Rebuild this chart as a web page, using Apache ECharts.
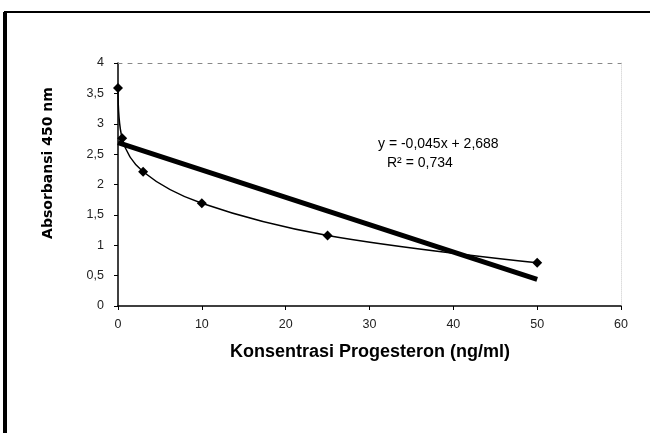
<!DOCTYPE html>
<html>
<head>
<meta charset="utf-8">
<script src="https://cdn.jsdelivr.net/npm/echarts@6/dist/echarts.min.js"></script>
<style>
  html, body { margin: 0; padding: 0; background: #fff; }
  #chart { width: 650px; height: 433px; }
</style>
</head>
<body>
<div id="chart"></div>
<script>
// concentration (ng/ml) and absorbance
var konsentrasi = [0, 0.5, 3, 10, 25, 50];
var absorbansi = [3.59, 2.76, 2.21, 1.69, 1.16, 0.71];
// linear trendline end points (y = -0,045x + 2,688)
var trendX = [0, 50];
var trendY = [2.688, 0.438];
var xTickLabels = ["0", "10", "20", "30", "40", "50", "60"];
var yTickLabels = ["0", "0,5", "1", "1,5", "2", "2,5", "3", "3,5", "4"];

var chart = echarts.init(document.getElementById("chart"));

function pairs(xs, ys) {
  return xs.map(function(x, i) {
    return [x, ys[i]];
  });
}

chart.setOption({
  backgroundColor: "#fff",
  animation: false,
  grid: { left: 118, right: 29, top: 63, bottom: 127 },
  xAxis: [
    {
      type: "value",
      min: 0,
      max: 60,
      interval: 10,
      axisLine: { lineStyle: { color: "#000", width: 1.5 } },
      axisTick: { show: true, length: 4, inside: false, lineStyle: { color: "#000" } },
      splitLine: { show: false },
      axisLabel: {
        color: "#222",
        fontFamily: "Liberation Sans",
        fontSize: 12.5,
        margin: 12,
        formatter: function(v, i) {
          return xTickLabels[i];
        }
      }
    },
    {
      type: "value",
      position: "top",
      min: 0,
      max: 60,
      axisLine: { show: true, onZero: false, lineStyle: { color: "#888", type: [4, 6], width: 1 } },
      axisTick: { show: false },
      axisLabel: { show: false },
      splitLine: { show: false }
    }
  ],
  yAxis: [
    {
      type: "value",
      min: 0,
      max: 4,
      interval: 0.5,
      axisLine: { show: true, lineStyle: { color: "#000", width: 1.5 } },
      axisTick: { show: true, length: 4, lineStyle: { color: "#000" } },
      splitLine: { show: false },
      axisLabel: {
        color: "#222",
        fontFamily: "Liberation Sans",
        fontSize: 12.5,
        margin: 14,
        formatter: function(v, i) {
          return yTickLabels[i];
        }
      }
    },
    {
      type: "value",
      position: "right",
      min: 0,
      max: 4,
      axisLine: { show: true, onZero: false, lineStyle: { color: "#ddd", type: "dotted", width: 1 } },
      axisTick: { show: false },
      axisLabel: { show: false },
      splitLine: { show: false }
    }
  ],
  series: [
    {
      name: "Absorbansi",
      type: "line",
      data: pairs(konsentrasi, absorbansi),
      smooth: 0.35,
      symbol: "diamond",
      symbolSize: 10,
      showSymbol: true,
      lineStyle: { color: "#000", width: 1.5 },
      itemStyle: { color: "#000" },
      z: 3
    },
    {
      name: "Linear",
      type: "line",
      data: pairs(trendX, trendY),
      symbol: "none",
      lineStyle: { color: "#000", width: 5 },
      z: 4
    }
  ],
  graphic: [
    {
      type: "text",
      left: 378,
      top: 137,
      style: {
        text: "y = -0,045x + 2,688",
        fontFamily: "Liberation Sans",
        fontSize: 14,
        fill: "#000"
      }
    },
    {
      type: "text",
      left: 387,
      top: 156,
      style: {
        text: "R² = 0,734",
        fontFamily: "Liberation Sans",
        fontSize: 14,
        fill: "#000"
      }
    },
    {
      type: "text",
      x: 48,
      y: 163,
      rotation: Math.PI / 2,
      style: {
        text: "Absorbansi 450 nm",
        fontFamily: "DejaVu Sans",
        fontWeight: "bold",
        fontSize: 14,
        fill: "#000",
        align: "center",
        verticalAlign: "middle"
      }
    },
    {
      type: "text",
      x: 370,
      y: 352,
      style: {
        text: "Konsentrasi Progesteron (ng/ml)",
        fontFamily: "Liberation Sans",
        fontWeight: "bold",
        fontSize: 18,
        fill: "#000",
        align: "center",
        verticalAlign: "middle"
      }
    },
    {
      type: "line",
      shape: { x1: 5, y1: 12, x2: 5, y2: 433 },
      style: { stroke: "#000", lineWidth: 4 }
    },
    {
      type: "line",
      shape: { x1: 4, y1: 12, x2: 650, y2: 12 },
      style: { stroke: "#000", lineWidth: 2 }
    }
  ]
});
</script>
</body>
</html>
